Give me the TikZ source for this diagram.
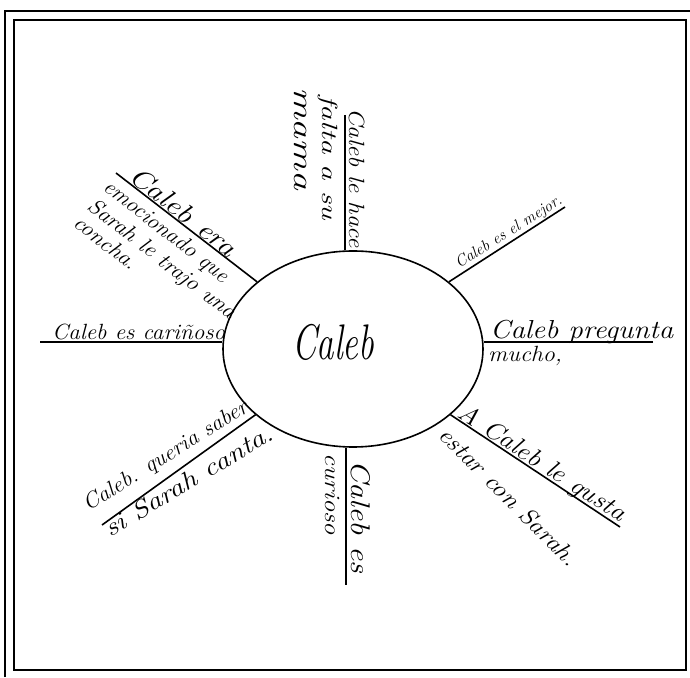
\documentclass[tikz,border=0pt]{standalone}
\usepackage{graphicx}
\usetikzlibrary{shapes.geometric}
\newcommand\hwbox[2]{\resizebox{#1pt}{\height}{#2}}
\tikzset{
  hw/.style={font=\fontsize{22}{22}\selectfont\itshape, inner sep=0pt, anchor=base west},
  fs/.style={font=\fontsize{#1}{#1}\selectfont\itshape},
  big/.style={font=\fontsize{50}{50}\selectfont\itshape, inner sep=0pt, anchor=base west},
  spoke/.style={line width=1.6pt},
  frame/.style={line width=1.6pt},
}
\begin{document}
\begin{tikzpicture}[x=1pt,y=1pt]
\useasboundingbox (0,0) rectangle (690,677);
% frame
\draw[frame] (14,7) rectangle (686,657);
\draw[line width=1.2pt] (5,0) -- (5,666) -- (690,666);
% centre
\node[draw, ellipse, line width=1.6pt, minimum width=260pt, minimum height=196pt, inner sep=0pt] (c) at (353,328) {};
\node[big] (cn) at (292,317) {\hwbox{82}{Caleb}};
% spoke ends
\coordinate (t1) at (345,562);
\coordinate (b1) at (346,92);
\coordinate (tr1) at (565,470);
\coordinate (r1) at (653,335);
\coordinate (br1) at (620,150);
\coordinate (bl1) at (102,152);
\coordinate (l1) at (40,335);
\coordinate (tl1) at (116,504);
\draw[spoke] (t1) -- (t1 |- c.north);
\draw[spoke] (b1) -- (b1 |- c.south);
\draw[spoke] (tr1) -- (c.35);
\draw[spoke] (r1) -- (r1 -| c.east);
\draw[spoke] (br1) -- (c.-34.5);
\draw[spoke] (bl1) -- (c.214.6);
\draw[spoke] (l1) -- (l1 -| c.west);
\draw[spoke] (tl1) -- (c.145.4);
% top
\node[hw, rotate=-90] (ta) at (349,569) {\hwbox{140}{Caleb le hace}};
\node[hw, rotate=-90] (tb) at (322,582) {\hwbox{125}{falta a su}};
\node[hw, fs=28, rotate=-90] (tc) at (294,590) {\hwbox{103}{mama}};
% bottom
\node[hw, fs=27, rotate=-90] (ba) at (351,217) {\hwbox{113}{Caleb es}};
\node[hw, rotate=-90] (bb) at (325,224) {\hwbox{82}{curioso}};
% right
\node[hw, fs=26] (ra) at (490,338) {\hwbox{183}{Caleb pregunta}};
\node[hw] (rb) at (488,315) {\hwbox{74}{mucho,}};
% left
\node[hw] (la) at (52,337) {\hwbox{173}{Caleb es cariñoso}};
% top right
\node[hw, fs=16, rotate=32.5] (tra) at (459,408) {Caleb es el mejor.};
% top left
\node[hw, fs=27, rotate=-38] (tla) at (127,498) {\hwbox{128}{Caleb era}};
\node[hw, rotate=-38] (tlb) at (102,488) {\hwbox{153}{emocionado que}};
\node[hw, rotate=-38] (tlc) at (86,469) {\hwbox{182}{Sarah le trajo una}};
\node[hw, rotate=-38] (tld) at (72,452) {\hwbox{75}{concha.}};
% bottom right
\node[hw, fs=25, rotate=-33] (bra) at (456,261) {\hwbox{195}{A Caleb le gusta}};
\node[hw, fs=24, rotate=-45] (brb) at (437,241) {\hwbox{186}{estar con Sarah.}};
% bottom left
\node[hw, rotate=32] (bla) at (88,165) {\hwbox{190}{Caleb. queria saber}};
\node[hw, fs=25, rotate=31] (blb) at (110,139) {\hwbox{193}{si Sarah canta.}};
\end{tikzpicture}
\end{document}
